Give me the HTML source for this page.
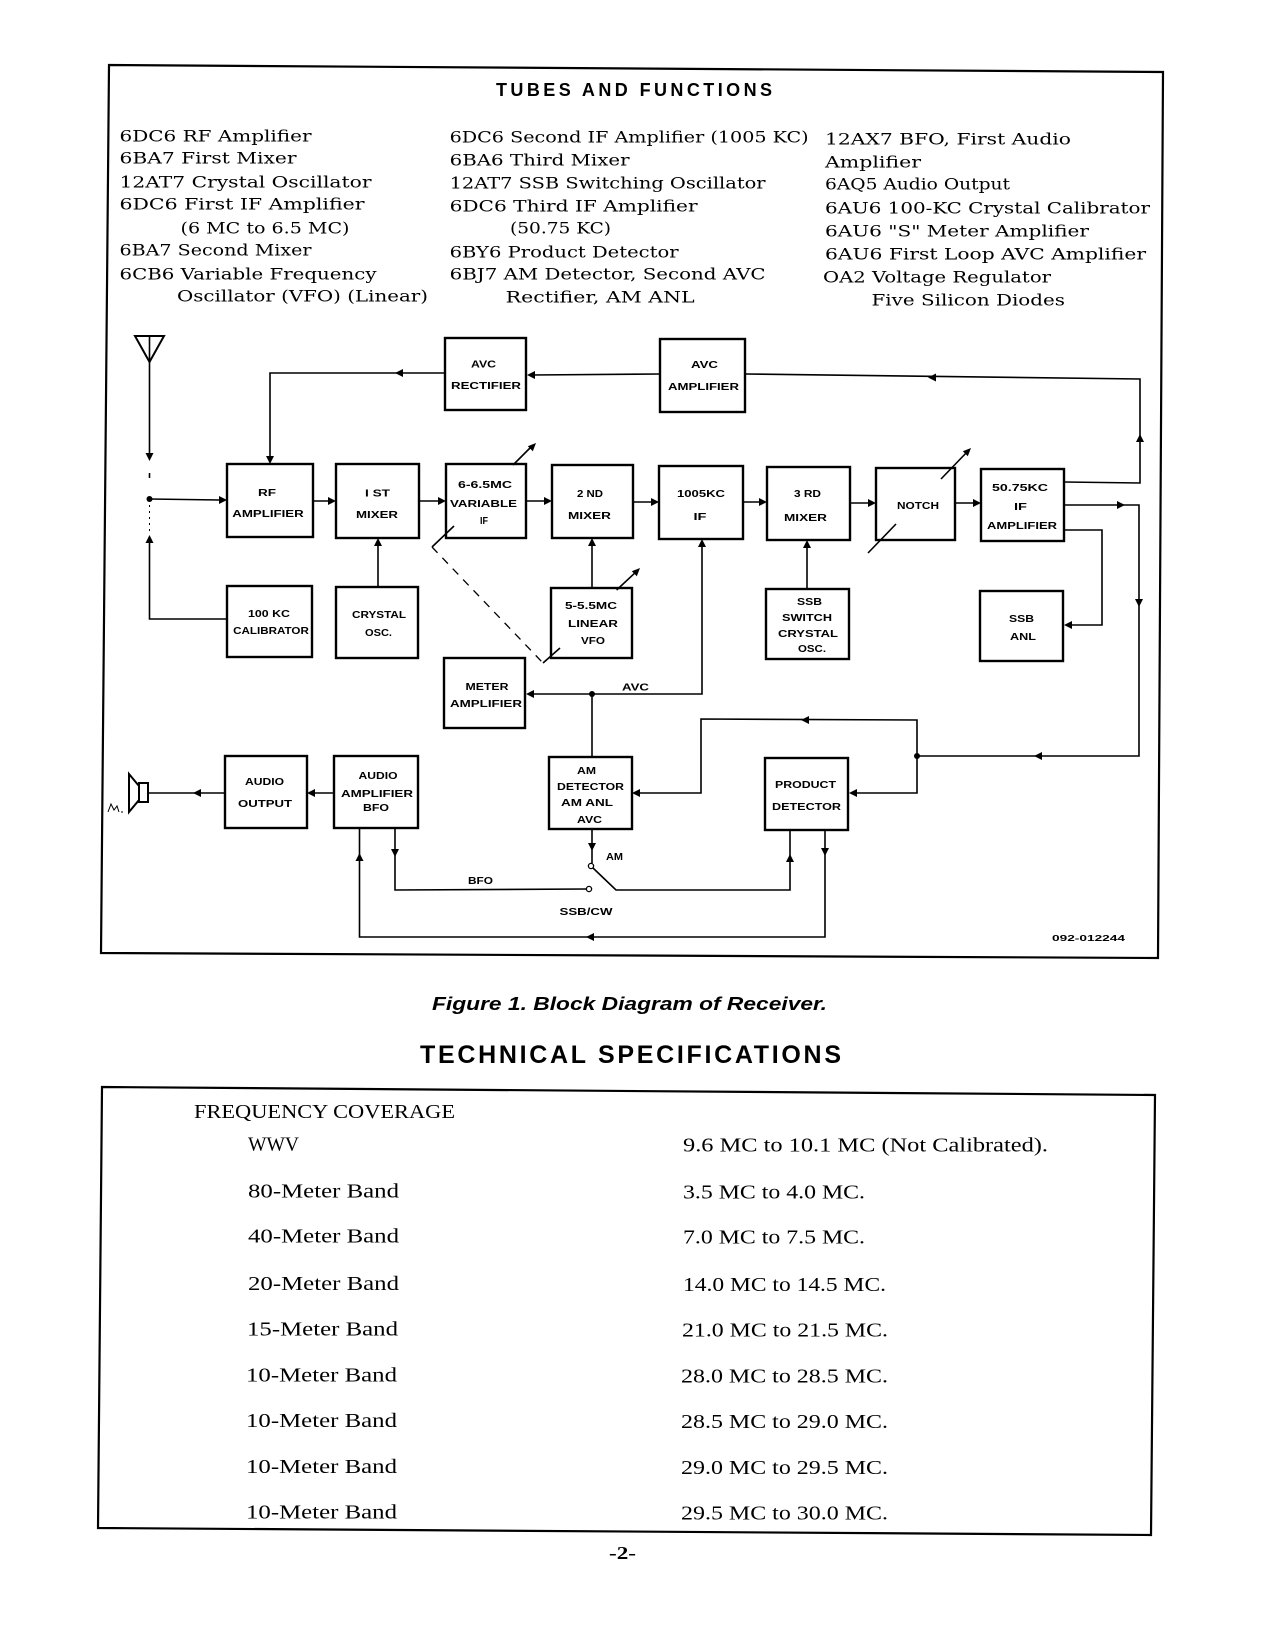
<!DOCTYPE html>
<html><head><meta charset="utf-8"><style>
html,body{margin:0;padding:0;background:#fff;}
svg{display:block;}
.b{fill:none;stroke:#000;stroke-width:2.4;}
.l{fill:none;stroke:#000;stroke-width:1.6;}
.a{fill:#000;stroke:none;}
.t{font-family:"Liberation Sans",sans-serif;font-weight:bold;font-size:10.5px;text-anchor:middle;fill:#000;}
.s{font-family:"DejaVu Serif","Liberation Serif",serif;font-size:16px;fill:#000;}
.r{font-family:"Liberation Serif",serif;font-size:20px;fill:#000;}
</style></head><body>
<svg width="1275" height="1650" viewBox="0 0 1275 1650" xmlns="http://www.w3.org/2000/svg">
<rect width="1275" height="1650" fill="#fff"/>
<!-- outer frame -->
<polygon points="109,65 1163,72 1158,958 101,953" fill="none" stroke="#000" stroke-width="2.2"/>
<text x="496" y="96" font-family="Liberation Sans, sans-serif" font-weight="bold" font-size="18" textLength="276" lengthAdjust="spacing">TUBES AND FUNCTIONS</text>

<!-- tubes col1 -->
<g class="s">
<text x="119.5" y="141.5" textLength="192" lengthAdjust="spacingAndGlyphs">6DC6 RF Amplifier</text>
<text x="119.5" y="163.5" textLength="177" lengthAdjust="spacingAndGlyphs">6BA7 First Mixer</text>
<text x="119.5" y="187.5" textLength="252" lengthAdjust="spacingAndGlyphs">12AT7 Crystal Oscillator</text>
<text x="119.5" y="209.5" textLength="245" lengthAdjust="spacingAndGlyphs">6DC6 First IF Amplifier</text>
<text x="180.5" y="233.5" textLength="169" lengthAdjust="spacingAndGlyphs">(6 MC to 6.5 MC)</text>
<text x="119.5" y="255.5" textLength="192" lengthAdjust="spacingAndGlyphs">6BA7 Second Mixer</text>
<text x="119.5" y="279.5" textLength="257" lengthAdjust="spacingAndGlyphs">6CB6 Variable Frequency</text>
<text x="177" y="301.5" textLength="251" lengthAdjust="spacingAndGlyphs">Oscillator (VFO) (Linear)</text>
<!-- col2 -->
<text x="449.6" y="142.5" textLength="359" lengthAdjust="spacingAndGlyphs">6DC6 Second IF Amplifier (1005 KC)</text>
<text x="449.6" y="165.5" textLength="180" lengthAdjust="spacingAndGlyphs">6BA6 Third Mixer</text>
<text x="449.6" y="188.5" textLength="316" lengthAdjust="spacingAndGlyphs">12AT7 SSB Switching Oscillator</text>
<text x="449.6" y="211.5" textLength="248" lengthAdjust="spacingAndGlyphs">6DC6 Third IF Amplifier</text>
<text x="510" y="233.5" textLength="101" lengthAdjust="spacingAndGlyphs">(50.75 KC)</text>
<text x="449.6" y="257.5" textLength="229" lengthAdjust="spacingAndGlyphs">6BY6 Product Detector</text>
<text x="449.6" y="279.5" textLength="316" lengthAdjust="spacingAndGlyphs">6BJ7 AM Detector, Second AVC</text>
<text x="505.7" y="302.5" textLength="189" lengthAdjust="spacingAndGlyphs">Rectifier, AM ANL</text>
<!-- col3 -->
<text x="825" y="144.5" textLength="246" lengthAdjust="spacingAndGlyphs">12AX7 BFO, First Audio</text>
<text x="825" y="167.5" textLength="96" lengthAdjust="spacingAndGlyphs">Amplifier</text>
<text x="825" y="189.5" textLength="185" lengthAdjust="spacingAndGlyphs">6AQ5 Audio Output</text>
<text x="825" y="213.5" textLength="325" lengthAdjust="spacingAndGlyphs">6AU6 100-KC Crystal Calibrator</text>
<text x="825" y="236.5" textLength="264" lengthAdjust="spacingAndGlyphs">6AU6 "S" Meter Amplifier</text>
<text x="825" y="259.5" textLength="321" lengthAdjust="spacingAndGlyphs">6AU6 First Loop AVC Amplifier</text>
<text x="823" y="282.5" textLength="228" lengthAdjust="spacingAndGlyphs">OA2 Voltage Regulator</text>
<text x="871.5" y="305.5" textLength="193.5" lengthAdjust="spacingAndGlyphs">Five Silicon Diodes</text>
</g>

<!-- boxes -->
<g class="b">
<rect x="445" y="338" width="81" height="72"/>
<rect x="660" y="339" width="85" height="73"/>
<rect x="227" y="464" width="86" height="73"/>
<rect x="336" y="464" width="83" height="74"/>
<rect x="446" y="464" width="80" height="74"/>
<rect x="552" y="465" width="81" height="73"/>
<rect x="659" y="466" width="84" height="73"/>
<rect x="767" y="467" width="83" height="73"/>
<rect x="876" y="468" width="79" height="72"/>
<rect x="981" y="469" width="83" height="72"/>
<rect x="227" y="586" width="85" height="71"/>
<rect x="336" y="587" width="82" height="71"/>
<rect x="551" y="588" width="81" height="70"/>
<rect x="766" y="589" width="83" height="70"/>
<rect x="980" y="591" width="83" height="70"/>
<rect x="444" y="658" width="81" height="70"/>
<rect x="549" y="757" width="83" height="72"/>
<rect x="765" y="758" width="83" height="72"/>
<rect x="334" y="756" width="84" height="72"/>
<rect x="225" y="756" width="82" height="72"/>
</g>

<!-- box labels -->
<g class="t">
<text x="483.5" y="367.5" textLength="25" lengthAdjust="spacingAndGlyphs">AVC</text>
<text x="486" y="389" textLength="70" lengthAdjust="spacingAndGlyphs">RECTIFIER</text>
<text x="704.5" y="368" textLength="27" lengthAdjust="spacingAndGlyphs">AVC</text>
<text x="703.5" y="390" textLength="71" lengthAdjust="spacingAndGlyphs">AMPLIFIER</text>
<text x="267" y="496" textLength="18" lengthAdjust="spacingAndGlyphs">RF</text>
<text x="268" y="517" textLength="71.5" lengthAdjust="spacingAndGlyphs">AMPLIFIER</text>
<text x="377.5" y="496.5" textLength="25" lengthAdjust="spacingAndGlyphs">I ST</text>
<text x="377" y="518" textLength="42" lengthAdjust="spacingAndGlyphs">MIXER</text>
<text x="485" y="488" textLength="54" lengthAdjust="spacingAndGlyphs">6-6.5MC</text>
<text x="483.5" y="507" textLength="67" lengthAdjust="spacingAndGlyphs">VARIABLE</text>
<text x="484" y="524" textLength="8" lengthAdjust="spacingAndGlyphs">IF</text>
<text x="590" y="497" textLength="26" lengthAdjust="spacingAndGlyphs">2 ND</text>
<text x="589.5" y="519" textLength="43" lengthAdjust="spacingAndGlyphs">MIXER</text>
<text x="701" y="497" textLength="48" lengthAdjust="spacingAndGlyphs">1005KC</text>
<text x="700" y="520" textLength="13" lengthAdjust="spacingAndGlyphs">IF</text>
<text x="807.5" y="497" textLength="27" lengthAdjust="spacingAndGlyphs">3 RD</text>
<text x="805.5" y="521" textLength="43" lengthAdjust="spacingAndGlyphs">MIXER</text>
<text x="918" y="509" textLength="42" lengthAdjust="spacingAndGlyphs">NOTCH</text>
<text x="1020" y="491" textLength="56" lengthAdjust="spacingAndGlyphs">50.75KC</text>
<text x="1020.5" y="510" textLength="13" lengthAdjust="spacingAndGlyphs">IF</text>
<text x="1022" y="529" textLength="70" lengthAdjust="spacingAndGlyphs">AMPLIFIER</text>
<text x="269" y="617" textLength="42" lengthAdjust="spacingAndGlyphs">100 KC</text>
<text x="271" y="634" textLength="75.7" lengthAdjust="spacingAndGlyphs">CALIBRATOR</text>
<text x="379" y="618" textLength="54" lengthAdjust="spacingAndGlyphs">CRYSTAL</text>
<text x="378.5" y="636" textLength="27" lengthAdjust="spacingAndGlyphs">OSC.</text>
<text x="591" y="609" textLength="52" lengthAdjust="spacingAndGlyphs">5-5.5MC</text>
<text x="593" y="627" textLength="50" lengthAdjust="spacingAndGlyphs">LINEAR</text>
<text x="593" y="644" textLength="24" lengthAdjust="spacingAndGlyphs">VFO</text>
<text x="809.5" y="605" textLength="25" lengthAdjust="spacingAndGlyphs">SSB</text>
<text x="807" y="621" textLength="50" lengthAdjust="spacingAndGlyphs">SWITCH</text>
<text x="808" y="637" textLength="60" lengthAdjust="spacingAndGlyphs">CRYSTAL</text>
<text x="812" y="652" textLength="28" lengthAdjust="spacingAndGlyphs">OSC.</text>
<text x="1021.5" y="622" textLength="25" lengthAdjust="spacingAndGlyphs">SSB</text>
<text x="1023" y="640" textLength="26" lengthAdjust="spacingAndGlyphs">ANL</text>
<text x="487" y="690" textLength="43" lengthAdjust="spacingAndGlyphs">METER</text>
<text x="486" y="707" textLength="72" lengthAdjust="spacingAndGlyphs">AMPLIFIER</text>
<text x="586.5" y="774" textLength="19" lengthAdjust="spacingAndGlyphs">AM</text>
<text x="590.5" y="790" textLength="67" lengthAdjust="spacingAndGlyphs">DETECTOR</text>
<text x="587" y="806" textLength="52" lengthAdjust="spacingAndGlyphs">AM ANL</text>
<text x="589.5" y="823" textLength="25" lengthAdjust="spacingAndGlyphs">AVC</text>
<text x="805.5" y="788" textLength="61" lengthAdjust="spacingAndGlyphs">PRODUCT</text>
<text x="806.5" y="810" textLength="69" lengthAdjust="spacingAndGlyphs">DETECTOR</text>
<text x="378" y="779" textLength="39" lengthAdjust="spacingAndGlyphs">AUDIO</text>
<text x="377" y="797" textLength="72" lengthAdjust="spacingAndGlyphs">AMPLIFIER</text>
<text x="376" y="811" textLength="26" lengthAdjust="spacingAndGlyphs">BFO</text>
<text x="264.5" y="785" textLength="39" lengthAdjust="spacingAndGlyphs">AUDIO</text>
<text x="265" y="807" textLength="54" lengthAdjust="spacingAndGlyphs">OUTPUT</text>
<!-- connector labels -->
<text x="635.5" y="690.5" textLength="27" lengthAdjust="spacingAndGlyphs">AVC</text>
<text x="614.5" y="860" textLength="17" lengthAdjust="spacingAndGlyphs">AM</text>
<text x="480.5" y="884" textLength="25" lengthAdjust="spacingAndGlyphs">BFO</text>
<text x="586" y="915" textLength="53" lengthAdjust="spacingAndGlyphs">SSB/CW</text>
<text x="1088.5" y="941" font-size="8" textLength="73" lengthAdjust="spacingAndGlyphs">092-012244</text>
</g>

<!-- antenna -->
<polygon points="135,336 164,336 149.5,362" fill="none" stroke="#000" stroke-width="2"/>
<g class="l">
<line x1="149.5" y1="336" x2="149.5" y2="362"/>
<line x1="149.5" y1="362" x2="149.5" y2="455"/>
<line x1="149.5" y1="473" x2="149.5" y2="478"/>
<line x1="149.5" y1="499" x2="220" y2="500"/>
<line x1="149.5" y1="505" x2="149.5" y2="532" stroke-dasharray="2,4" stroke-width="1"/>
<polyline points="149.5,540 149.5,619 227,619"/>
<!-- AVC loop top -->
<polyline points="445,373 270,373 270,458"/>
<line x1="660" y1="374" x2="531" y2="375"/>
<polyline points="745,374 1140,379 1140,483 1064,482"/>
<!-- main chain -->
<line x1="313" y1="501" x2="330" y2="501"/>
<line x1="419" y1="501" x2="440" y2="501"/>
<line x1="526" y1="501" x2="546" y2="501"/>
<line x1="633" y1="502" x2="653" y2="502"/>
<line x1="743" y1="502" x2="761" y2="502"/>
<line x1="850" y1="503" x2="870" y2="503"/>
<line x1="955" y1="503" x2="975" y2="503"/>
<polyline points="1064,505 1139,505 1139,756 917,756"/>
<polyline points="1064,530 1102,530 1102,625 1068,625"/>
<!-- verticals into chain -->
<line x1="378" y1="587" x2="378" y2="544"/>
<line x1="592" y1="588" x2="592" y2="544"/>
<line x1="807" y1="589" x2="807" y2="546"/>
<polyline points="702,545 702,694 531,694"/>
<line x1="592" y1="694" x2="592" y2="757"/>
<!-- AM det / product det loops -->
<polyline points="636,793 701,793 701,719 917,720 917,793 853,793"/>
<line x1="592" y1="829" x2="592" y2="863"/>
<polyline points="593,868 616,890 790,890 790,830"/>
<polyline points="587,889 395,890 395,828"/>
<polyline points="825,830 825,937 359.5,937 359.5,828"/>
<!-- audio -->
<line x1="334" y1="793" x2="311" y2="793"/>
<line x1="225" y1="793" x2="148" y2="793"/>
<!-- slashes -->
<line x1="513" y1="465" x2="533" y2="445"/>
<line x1="454" y1="526" x2="432" y2="547"/>
<line x1="432" y1="547" x2="543" y2="663" stroke-dasharray="8,7" stroke-width="1.3"/>
<line x1="543" y1="663" x2="560" y2="648"/>
<line x1="616.6" y1="590" x2="637" y2="571"/>
<line x1="941" y1="479" x2="968" y2="451"/>
<line x1="896" y1="524" x2="868" y2="553"/>
</g>
<!-- speaker -->
<rect x="139" y="783" width="9" height="19" fill="none" stroke="#000" stroke-width="2"/>
<polygon points="139,786 129,774 129,812 139,800" fill="none" stroke="#000" stroke-width="2"/>
<path d="M108,812 l3,-8 l3,6 l3,-4 l2,6 M121,812 h2" fill="none" stroke="#000" stroke-width="1"/>

<!-- dots -->
<g class="a">
<circle cx="149.5" cy="499" r="3"/>
<circle cx="592" cy="694" r="3"/>
<circle cx="917" cy="756" r="3"/>
</g>
<circle cx="591" cy="866" r="2.6" fill="#fff" stroke="#000" stroke-width="1.3"/>
<circle cx="589" cy="889" r="2.6" fill="#fff" stroke="#000" stroke-width="1.3"/>

<!-- arrowheads -->
<g class="a">
<polygon points="149.5,461 145.5,453 153.5,453"/>
<polygon points="227,500 219,496 219,504"/>
<polygon points="149.5,535 145.5,543 153.5,543"/>
<polygon points="395,373 403,369 403,377"/>
<polygon points="270,464 266,456 274,456"/>
<polygon points="527,375 535,371 535,379"/>
<polygon points="928,377.5 936,373.5 936,381.5"/>
<polygon points="1140,434 1136,442 1144,442"/>
<polygon points="336,501 328,497 328,505"/>
<polygon points="446,501 438,497 438,505"/>
<polygon points="552,501 544,497 544,505"/>
<polygon points="659,502 651,498 651,506"/>
<polygon points="767,502 759,498 759,506"/>
<polygon points="876,503 868,499 868,507"/>
<polygon points="981,503 973,499 973,507"/>
<polygon points="1125,505 1117,501 1117,509"/>
<polygon points="1139,607 1135,599 1143,599"/>
<polygon points="1034,756 1042,752 1042,760"/>
<polygon points="1064,625 1072,621 1072,629"/>
<polygon points="378,538 374,546 382,546"/>
<polygon points="592,538 588,546 596,546"/>
<polygon points="807,540 803,548 811,548"/>
<polygon points="702,539 698,547 706,547"/>
<polygon points="526,694 534,690 534,698"/>
<polygon points="592,851 588,843 596,843"/>
<polygon points="790,854 786,862 794,862"/>
<polygon points="395,857 391,849 399,849"/>
<polygon points="825,856 821,848 829,848"/>
<polygon points="586,937 594,933 594,941"/>
<polygon points="359.5,853 355.5,861 363.5,861"/>
<polygon points="632,793 640,789 640,797"/>
<polygon points="801,720 809,716 809,724"/>
<polygon points="849,793 857,789 857,797"/>
<polygon points="307,793 315,789 315,797"/>
<polygon points="193,793 201,789 201,797"/>
<polygon points="536,443 532.8,451.2 527.8,446.2"/>
<polygon points="640,568 636.8,576.2 631.8,571.2"/>
<polygon points="971,448 967.8,456.2 962.8,451.2"/>
</g>

<!-- caption & heading -->
<text x="432" y="1010" font-family="Liberation Sans, sans-serif" font-weight="bold" font-style="italic" font-size="18" textLength="395" lengthAdjust="spacingAndGlyphs">Figure 1.  Block Diagram of Receiver.</text>
<text x="420" y="1063" font-family="Liberation Sans, sans-serif" font-weight="bold" font-size="25" textLength="421" lengthAdjust="spacing">TECHNICAL SPECIFICATIONS</text>

<!-- table -->
<polygon points="102,1087 1155,1095 1151,1535 98,1528" fill="none" stroke="#000" stroke-width="2.2"/>
<g class="r">
<text x="194" y="1118" textLength="261" lengthAdjust="spacingAndGlyphs">FREQUENCY COVERAGE</text>
<text x="248" y="1150.5" textLength="51" lengthAdjust="spacingAndGlyphs">WWV</text>
<text x="683" y="1151.5" textLength="365" lengthAdjust="spacingAndGlyphs">9.6 MC to 10.1 MC (Not Calibrated).</text>
<text x="248" y="1197.5" textLength="151" lengthAdjust="spacingAndGlyphs">80-Meter Band</text>
<text x="683" y="1198.5" textLength="182" lengthAdjust="spacingAndGlyphs">3.5 MC to 4.0 MC.</text>
<text x="248" y="1242.5" textLength="151" lengthAdjust="spacingAndGlyphs">40-Meter Band</text>
<text x="683" y="1243.5" textLength="182" lengthAdjust="spacingAndGlyphs">7.0 MC to 7.5 MC.</text>
<text x="248" y="1290" textLength="151" lengthAdjust="spacingAndGlyphs">20-Meter Band</text>
<text x="683" y="1291" textLength="203" lengthAdjust="spacingAndGlyphs">14.0 MC to 14.5 MC.</text>
<text x="247" y="1335.5" textLength="151" lengthAdjust="spacingAndGlyphs">15-Meter Band</text>
<text x="682" y="1336.5" textLength="206" lengthAdjust="spacingAndGlyphs">21.0 MC to 21.5 MC.</text>
<text x="246" y="1381.5" textLength="151" lengthAdjust="spacingAndGlyphs">10-Meter Band</text>
<text x="681" y="1382.5" textLength="207" lengthAdjust="spacingAndGlyphs">28.0 MC to 28.5 MC.</text>
<text x="246" y="1427" textLength="151" lengthAdjust="spacingAndGlyphs">10-Meter Band</text>
<text x="681" y="1428" textLength="207" lengthAdjust="spacingAndGlyphs">28.5 MC to 29.0 MC.</text>
<text x="246" y="1473" textLength="151" lengthAdjust="spacingAndGlyphs">10-Meter Band</text>
<text x="681" y="1474" textLength="207" lengthAdjust="spacingAndGlyphs">29.0 MC to 29.5 MC.</text>
<text x="246" y="1518.5" textLength="151" lengthAdjust="spacingAndGlyphs">10-Meter Band</text>
<text x="681" y="1519.5" textLength="207" lengthAdjust="spacingAndGlyphs">29.5 MC to 30.0 MC.</text>
</g>
<text x="622.5" y="1559" font-family="Liberation Serif, serif" font-weight="bold" font-size="18" text-anchor="middle" textLength="27" lengthAdjust="spacingAndGlyphs">-2-</text>
</svg>
</body></html>
